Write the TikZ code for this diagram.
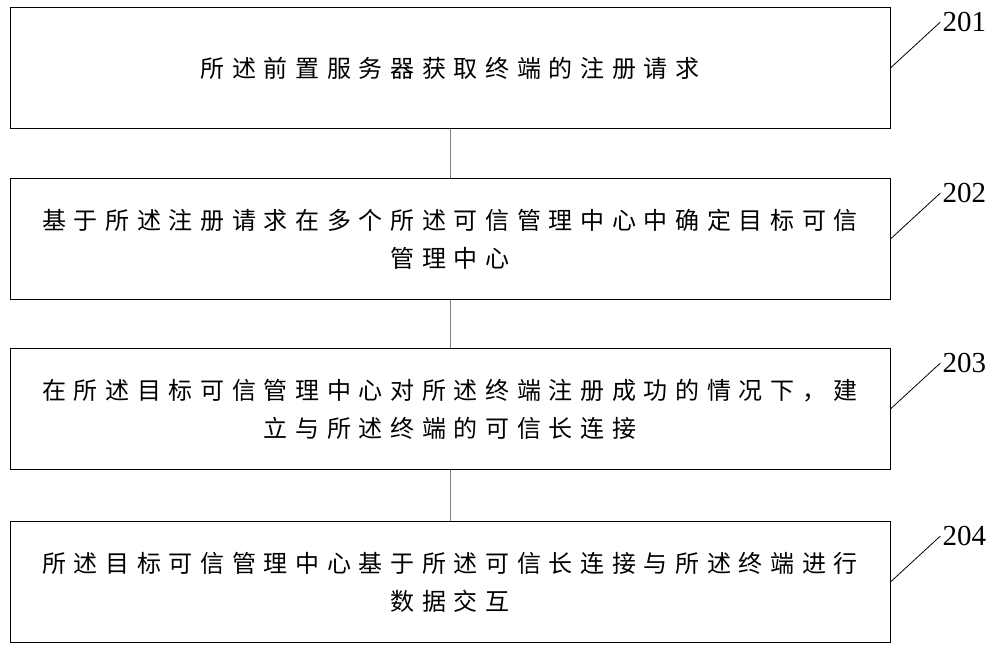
\documentclass[tikz,border=0pt]{standalone}
\usepackage{fontspec}
\setmainfont{Liberation Serif}
\newfontfamily\cjk[LetterSpace=32]{Noto Sans CJK SC}
\tikzset{
  stepbox/.style={draw, line width=0.8pt, minimum width=880pt, minimum height=121pt,
    align=center, font=\cjk\fontsize{24}{38}\selectfont, inner sep=0pt},
  leader/.style={line width=0.8pt},
  numlabel/.style={font=\fontsize{29}{29}\selectfont, anchor=west, inner sep=0pt}
}
\begin{document}
\begin{tikzpicture}[x=1pt,y=1pt]
  \useasboundingbox (0,0) rectangle (1000,-657);

  \node[stepbox] (s1) at (450,-68) {所述前置服务器获取终端的注册请求};
  \node[stepbox] (s2) at (450,-239) {基于所述注册请求在多个所述可信管理中心中确定目标可信\\管理中心};
  \node[stepbox] (s3) at (450,-409) {在所述目标可信管理中心对所述终端注册成功的情况下，建\\立与所述终端的可信长连接};
  \node[stepbox] (s4) at (450,-582) {所述目标可信管理中心基于所述可信长连接与所述终端进行\\数据交互};

  \draw[line width=0.5pt, gray] (s1) -- (s2);
  \draw[line width=0.5pt, gray] (s2) -- (s3);
  \draw[line width=0.5pt, gray] (s3) -- (s4);

  \foreach \s/\n in {s1/201, s2/202, s3/203, s4/204} {
    \coordinate (\s-end) at ([shift={(50,46)}]\s.east);
    \draw[leader] (\s.east) -- (\s-end);
    \node[numlabel] (\s-num) at ([shift={(2,0)}]\s-end) {\n};
  }
\end{tikzpicture}
\end{document}
